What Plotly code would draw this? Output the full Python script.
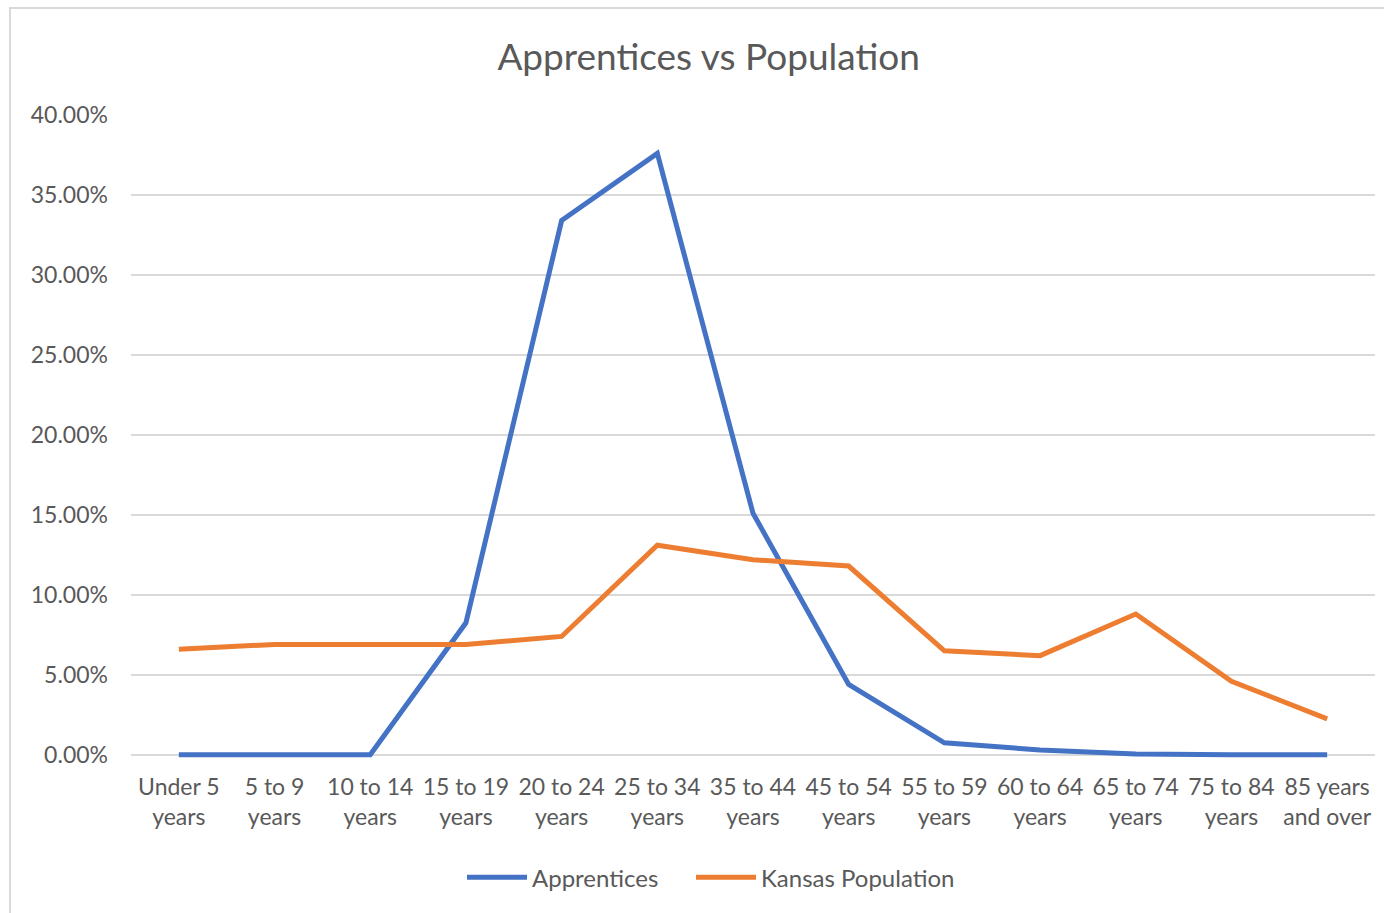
import plotly.graph_objects as go

categories = ["Under 5<br>years", "5 to 9<br>years", "10 to 14<br>years", "15 to 19<br>years",
              "20 to 24<br>years", "25 to 34<br>years", "35 to 44<br>years", "45 to 54<br>years",
              "55 to 59<br>years", "60 to 64<br>years", "65 to 74<br>years", "75 to 84<br>years",
              "85 years<br>and over"]
apprentices = [0.0, 0.0, 0.0, 0.0825, 0.334, 0.376, 0.151, 0.044, 0.0075, 0.003, 0.0005, 0.0, 0.0]
kansas = [0.066, 0.069, 0.069, 0.069, 0.074, 0.131, 0.122, 0.118, 0.065, 0.062, 0.088, 0.046, 0.0225]
y_ticks = [0, 0.05, 0.10, 0.15, 0.20, 0.25, 0.30, 0.35, 0.40]

FONT = "Lato, Open Sans, sans-serif"
GRAY = "#595959"

# plot area in pixels: top 115, zero line at 755, a little extra room below zero
TOP, ZERO, LEFT, RIGHT_M = 115, 755, 131, 9
PX_PER_UNIT = (ZERO - TOP) / 0.4
Y_MIN = -0.002
BOTTOM = ZERO + (-Y_MIN) * PX_PER_UNIT
H = BOTTOM - TOP
W = 1384 - LEFT - RIGHT_M


def py(pix):
    return (BOTTOM - pix) / H


def px(pix):
    return (pix - LEFT) / W


fig = go.Figure()
fig.add_trace(go.Scatter(x=categories, y=apprentices, mode="lines", name="Apprentices",
                         line=dict(color="#4472C4", width=5), legend="legend"))
fig.add_trace(go.Scatter(x=categories, y=kansas, mode="lines", name="Kansas Population",
                         line=dict(color="#ED7D31", width=5), legend="legend2"))

legend_common = dict(orientation="h", xanchor="left", y=py(878), yanchor="middle",
                     font=dict(size=24, color=GRAY), itemwidth=60, bgcolor="rgba(0,0,0,0)")

fig.update_layout(
    width=1384, height=913,
    margin=dict(l=LEFT, r=RIGHT_M, t=TOP, b=913 - BOTTOM, autoexpand=False),
    paper_bgcolor="white", plot_bgcolor="white",
    font=dict(family=FONT, color=GRAY, size=23),
    title=dict(text="Apprentices vs Population", x=0.512, xref="container", xanchor="center",
               y=1 - 57 / 913, yref="container", yanchor="middle",
               font=dict(family=FONT, size=37, color=GRAY)),
    showlegend=True,
    legend=dict(x=px(462), **legend_common),
    legend2=dict(x=px(691), **legend_common),
    xaxis=dict(showgrid=False, zeroline=False, showline=False, ticks="",
               range=[-0.5, 12.5], ticklabelstandoff=13,
               tickfont=dict(size=23, color=GRAY), fixedrange=True),
    yaxis=dict(range=[Y_MIN, 0.4], tickvals=y_ticks, tickformat=".2%", showgrid=True,
               gridcolor="#d9d9d9", gridwidth=1.5, zeroline=False, showline=False,
               ticks="", ticklabelstandoff=22, tickfont=dict(size=23, color=GRAY)),
    shapes=[dict(type="rect", xref="paper", yref="paper",
                 x0=px(10), x1=px(1395), y0=py(925), y1=py(8),
                 line=dict(color="#d9d9d9", width=2), fillcolor="rgba(0,0,0,0)", layer="below")],
)

fig.write_html("out.html", config={"displayModeBar": False},
               post_script="document.body.style.margin='0';")
